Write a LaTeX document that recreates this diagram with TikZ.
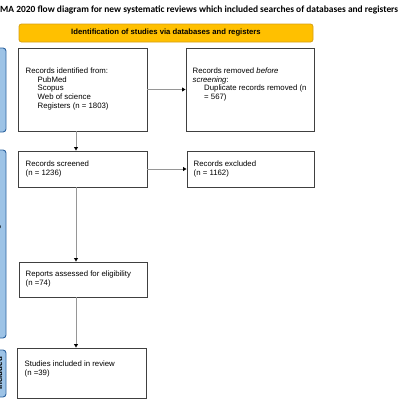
\documentclass[tikz,border=0pt]{standalone}
\usepackage{fontspec}
\setmainfont{Liberation Sans}
\newfontfamily\titlefont{Carlito}
\usetikzlibrary{arrows.meta,calc}
\definecolor{boxline}{RGB}{64,64,64}
\definecolor{arrline}{RGB}{150,150,150}
\definecolor{ybar}{RGB}{255,192,0}
\definecolor{ybord}{RGB}{214,160,20}
\definecolor{bfill}{RGB}{157,195,230}
\definecolor{bbord}{RGB}{46,100,160}
\begin{document}
\begin{tikzpicture}[x=1pt,y=-1pt,
  box/.style={draw=boxline,line width=0.9pt,fill=white,inner sep=0pt},
  txt/.style={anchor=north west,inner sep=0pt,align=left,font=\fontsize{7.8}{8.7}\selectfont},
  arr/.style={draw=arrline,line width=0.8pt,-{Triangle[length=3.5pt,width=3.8pt,color=black]}},
  bar/.style={draw=bbord,fill=bfill,line width=0.9pt,rounded corners=3pt},
  barlbl/.style={rotate=90,anchor=base,inner sep=0pt,font=\bfseries\fontsize{8}{9}\selectfont}
]
\useasboundingbox (0,0) rectangle (400,400);
\clip (0,0) rectangle (400,400);
% title
\node[anchor=west,inner sep=0pt] (title) at (0,10) {\resizebox{398pt}{!}{\titlefont\bfseries MA 2020 flow diagram for new systematic reviews which included searches of databases and registers}};
% yellow header
\node[draw=ybord,fill=ybar,line width=0.8pt,rounded corners=2.5pt,minimum width=294pt,minimum height=18pt,inner sep=0pt,font=\bfseries\fontsize{7.7}{8.5}\selectfont] (hdr) at (166,33) {Identification of studies via databases and registers};
% side bars
\path[bar] (-30,48) rectangle (6,132);
\path[bar] (-30,150) rectangle (6,338);
\path[bar] (-30,350) rectangle (6,397);
\node[barlbl] (lb1) at (-2,90) {Identification};
\node[barlbl] (lb2) at (-0.8,244) {Screening};
\node[barlbl] (lb3) at (2.2,373.5) {Included};
% boxes
\node[box,minimum width=129pt,minimum height=83pt] (id) at (82.5,89.5) {};
\node[box,minimum width=128pt,minimum height=83pt] (rem) at (250,89.5) {};
\node[box,minimum width=129pt,minimum height=36pt] (scr) at (82.5,169) {};
\node[box,minimum width=127pt,minimum height=36pt] (exc) at (250.5,169) {};
\node[box,minimum width=128pt,minimum height=35pt] (rep) at (83,279.5) {};
\node[box,minimum width=129pt,minimum height=50pt] (inc) at (81.5,373) {};
% texts
\node[txt] (tid) at (25.5,67.5) {Records identified from:\\\hspace*{12pt}PubMed\\\hspace*{12pt}Scopus\\\hspace*{12pt}Web of science\\\hspace*{12pt}Registers (n = 1803)};
\node[txt] (trem) at (192.5,67.5) {Records removed \textit{before}\\\textit{screening}:\\\hspace*{11.5pt}Duplicate records removed (n\\\hspace*{11.5pt}= 567)};
\node[txt] (tscr) at (25.5,160.5) {Records screened\\(n = 1236)};
\node[txt] (texc) at (193.5,160.5) {Records excluded\\(n = 1162)};
\node[txt] (trep) at (25.5,271) {Reports assessed for eligibility\\(n =74)};
\node[txt] (tinc) at (24.5,361) {Studies included in review\\(n =39)};
% arrows
\draw[arr] ([xshift=-6.5pt]id.south) -- ([xshift=-6.5pt]scr.north);
\draw[arr] (id.east) -- (rem.west);
\draw[arr] (scr.east) -- (exc.west);
\draw[arr] ([xshift=-6.5pt]scr.south) -- ([xshift=-7pt]rep.north);
\draw[arr] ([xshift=-7pt]rep.south) -- ([xshift=-5.5pt]inc.north);
\end{tikzpicture}
\end{document}
